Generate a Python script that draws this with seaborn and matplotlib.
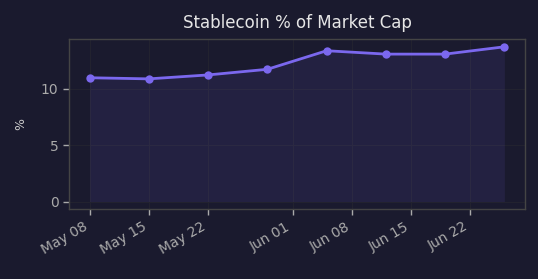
import pandas as pd
import matplotlib
matplotlib.use('Agg')
import matplotlib.pyplot as plt
import matplotlib.dates as mdates
import seaborn as sns

# Weekly stablecoin share of total market cap
dates = ['2025-05-08', '2025-05-15', '2025-05-22', '2025-05-29',
         '2025-06-05', '2025-06-12', '2025-06-19', '2025-06-26']
share_pct = [11.0, 10.9, 11.25, 11.75, 13.4, 13.1, 13.1, 13.75]

df = pd.DataFrame({'date': pd.to_datetime(dates), 'pct': share_pct})

bg = '#1a1a2e'
line_color = '#7b68ee'

sns.set_theme(style='darkgrid')
plt.rcParams['font.family'] = ['DejaVu Sans']

fig, ax = plt.subplots(figsize=(5.38, 2.79), dpi=100)
fig.patch.set_facecolor(bg)
ax.set_facecolor(bg)

ax.fill_between(df['date'], df['pct'], color=line_color, alpha=0.1, linewidth=0)
sns.lineplot(data=df, x='date', y='pct', ax=ax, color=line_color,
             linewidth=2, marker='o', markersize=6, markeredgewidth=0)

ax.set_title('Stablecoin % of Market Cap', color='#e6e6e6', fontsize=12, pad=8)
ax.set_xlabel('')
ax.set_ylabel('%', color='#cccccc', fontsize=9, labelpad=10)
ax.set_yticks([0, 5, 10])

ax.xaxis.set_major_formatter(mdates.DateFormatter('%b %d'))
ax.tick_params(colors='#aaaaaa', labelsize=10, length=4, width=1,
               bottom=True, left=True)
ax.grid(True, color='#22222f', linewidth=0.8)
for s in ax.spines.values():
    s.set_visible(True)
    s.set_color('#444444')
    s.set_linewidth(1)
plt.setp(ax.get_xticklabels(), rotation=30, ha='right')

fig.subplots_adjust(left=0.128, right=0.976, top=0.86, bottom=0.25)
fig.savefig('out.png', dpi=100, facecolor=bg)
